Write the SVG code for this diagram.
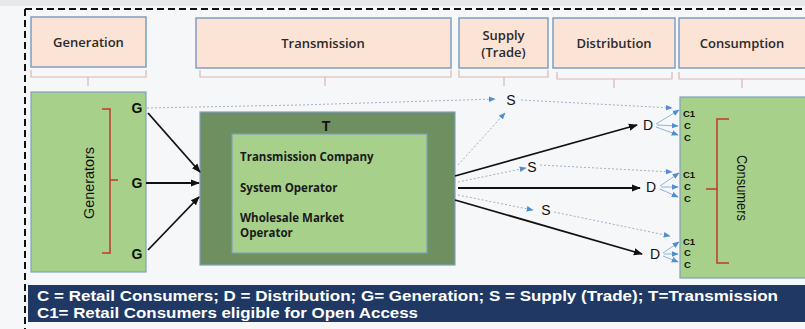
<svg xmlns="http://www.w3.org/2000/svg" width="805" height="329" viewBox="0 0 805 329">
<defs>
<style>
.hdr{fill:#fbe3d5;stroke:#7f9fc2;stroke-width:1.5}
.hdrt{font-family:"Open Sans","Liberation Sans",sans-serif;font-size:13px;font-weight:600;fill:#2a2a2a;text-anchor:middle;dominant-baseline:central}
.brk{fill:none;stroke:#d8b6b6;stroke-width:1.2}
.green{fill:#a7d08b;stroke:#7f9fc2;stroke-width:1.2}
.lbl{font-family:"Liberation Sans",Arial,sans-serif;font-size:14px;fill:#111;text-anchor:middle;dominant-baseline:central}
.cl{font-family:"Liberation Sans",Arial,sans-serif;font-size:9.5px;font-weight:bold;fill:#111;dominant-baseline:central}
.red{fill:none;stroke:#c0392b;stroke-width:1.5}
.blk{fill:none;stroke:#111;stroke-width:1.8;marker-end:url(#ab)}
.dot{fill:none;stroke:#9fb2c6;stroke-width:1;stroke-dasharray:2 2;marker-end:url(#au)}
.sm{fill:none;stroke:#8fb3d9;stroke-width:1;marker-end:url(#au)}
.in{font-family:"Open Sans","Liberation Sans",sans-serif;font-size:11.5px;font-weight:bold;fill:#1a1a1a}
.leg{font-family:"Liberation Sans",Arial,sans-serif;font-size:14px;font-weight:bold;fill:#fff}
</style>
<marker id="ab" viewBox="0 0 10 10" refX="9" refY="5" markerWidth="5" markerHeight="5" orient="auto" markerUnits="strokeWidth"><path d="M0,1 L10,5 L0,9 z" fill="#111"/></marker>
<marker id="au" viewBox="0 0 10 10" refX="9" refY="5" markerWidth="7" markerHeight="7" orient="auto" markerUnits="strokeWidth"><path d="M0,1 L10,5 L0,9 z" fill="#4f8fd0"/></marker>
</defs>
<rect width="805" height="329" fill="#f6f7f9"/>
<path d="M0,0 H805 V6 H0 z" fill="#e6e8eb"/>
<path d="M25,9 H805 M25,9 V329" fill="none" stroke="#111" stroke-width="2" stroke-dasharray="7 4"/>

<g id="hdr-generation"><rect class="hdr" x="31" y="17" width="115" height="50"/><text class="hdrt" x="88.5" y="42">Generation</text></g>
<g id="hdr-transmission"><rect class="hdr" x="196" y="18" width="255" height="50"/><text class="hdrt" x="323" y="43">Transmission</text></g>
<g id="hdr-supply"><rect class="hdr" x="459" y="18" width="89" height="50"/><text class="hdrt" x="503.5" y="35">Supply</text><text class="hdrt" x="503.5" y="52">(Trade)</text></g>
<g id="hdr-distribution"><rect class="hdr" x="553" y="18" width="122" height="50"/><text class="hdrt" x="614" y="43">Distribution</text></g>
<g id="hdr-consumption"><rect class="hdr" x="679" y="18" width="130" height="50"/><text class="hdrt" x="742" y="43">Consumption</text></g>

<g id="brackets">
<path class="brk" d="M31,70 V77 H146 V70 M88,77 V86"/>
<path class="brk" d="M200,70 V77 H451 V70 M325,77 V86"/>
<path class="brk" d="M459,70 V77 H548 V70 M504,77 V86"/>
<path class="brk" d="M557,72 V79 H672 V72 M614,79 V88"/>
<path class="brk" d="M679,72 V79 H805 M742,79 V88"/>
</g>

<g id="generators">
<rect class="green" x="31" y="92" width="115" height="180"/>
<path class="red" d="M102,109 H110 V253 H102 M110,180 H118"/>
<text class="lbl" transform="translate(89,183) rotate(-90)" font-size="17" textLength="72" lengthAdjust="spacingAndGlyphs">Generators</text>
<text class="lbl" x="137" y="108" font-weight="bold">G</text>
<text class="lbl" x="137" y="183" font-weight="bold">G</text>
<text class="lbl" x="137" y="254" font-weight="bold">G</text>
</g>

<g id="transmission">
<rect x="200" y="112" width="255" height="153" fill="#6e8f5f" stroke="#7f9fc2" stroke-width="1.2"/>
<text class="lbl" x="326" y="126" font-weight="bold" font-size="13">T</text>
<rect x="232" y="134" width="195" height="119" fill="#a7d08b" stroke="#7f9fc2" stroke-width="1.2"/>
<text class="in" x="240" y="161">Transmission Company</text>
<text class="in" x="240" y="192">System Operator</text>
<text class="in" x="240" y="222">Wholesale Market</text>
<text class="in" x="240" y="237">Operator</text>
</g>

<g id="consumers">
<rect class="green" x="680" y="97" width="130" height="181"/>
<path class="red" d="M729,119 H717 V263 H729 M717,189 H706"/>
<text class="lbl" transform="translate(742,188) rotate(90)" font-size="17" textLength="66" lengthAdjust="spacingAndGlyphs">Consumers</text>
<text class="cl" x="683" y="113">C1</text><text class="cl" x="684" y="125">C</text><text class="cl" x="684" y="137">C</text>
<text class="cl" x="683" y="174">C1</text><text class="cl" x="684" y="186">C</text><text class="cl" x="684" y="198">C</text>
<text class="cl" x="683" y="241">C1</text><text class="cl" x="684" y="252.5">C</text><text class="cl" x="684" y="264">C</text>
</g>

<g id="nodes-sd">
<text class="lbl" x="511" y="100">S</text>
<text class="lbl" x="532" y="167">S</text>
<text class="lbl" x="546" y="210">S</text>
<text class="lbl" x="648" y="125" font-size="15">D</text>
<text class="lbl" x="651" y="187" font-size="15">D</text>
<text class="lbl" x="655" y="254" font-size="15">D</text>
</g>

<g id="connectors">
<path class="blk" d="M148,113 L200,172"/>
<path class="blk" d="M146,183 L199,183"/>
<path class="blk" d="M148,250 L199,197"/>
<path class="dot" d="M147,108 L300,105 L495,99"/>
<path class="dot" d="M521,100 L672,108"/>
<path class="dot" d="M458,165 L505,113"/>
<path class="blk" d="M455,176 L637,125"/>
<path class="blk" d="M458,188 L640,188"/>
<path class="blk" d="M455,200 L642,254"/>
<path class="dot" d="M458,182 L526,168"/>
<path class="dot" d="M540,165 L672,172"/>
<path class="dot" d="M458,195 L533,210"/>
<path class="dot" d="M554,212 L670,236"/>
<path class="sm" d="M656,124 L679,110"/><path class="sm" d="M657,125 L678,126"/><path class="sm" d="M656,127 L678,135"/>
<path class="sm" d="M660,186 L679,173"/><path class="sm" d="M661,187 L678,187"/><path class="sm" d="M660,189 L678,197"/>
<path class="sm" d="M663,253 L679,242"/><path class="sm" d="M664,254 L678,254"/><path class="sm" d="M663,256 L678,262"/>
</g>

<g id="legend">
<rect x="28" y="285" width="780" height="37" fill="#1f3864"/>
<text class="leg" x="37" y="301" textLength="741" lengthAdjust="spacingAndGlyphs">C = Retail Consumers; D = Distribution; G= Generation; S = Supply (Trade); T=Transmission</text>
<text class="leg" x="37" y="318" textLength="381" lengthAdjust="spacingAndGlyphs">C1= Retail Consumers eligible for Open Access</text>
</g>
</svg>
